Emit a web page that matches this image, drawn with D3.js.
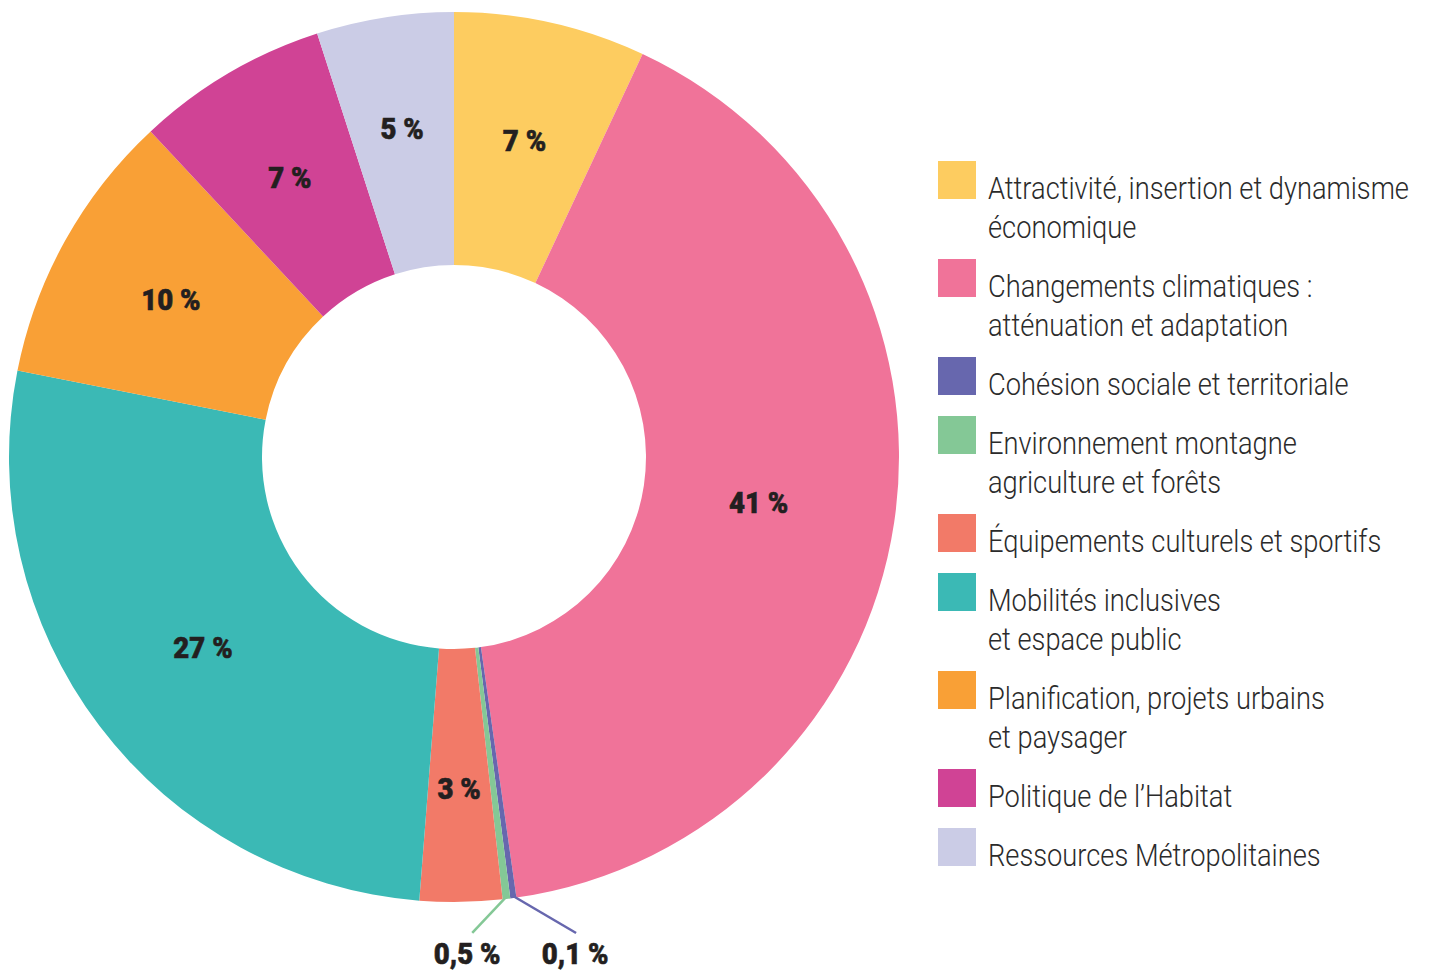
<!DOCTYPE html>
<html><head><meta charset="utf-8">
<script src="https://cdn.jsdelivr.net/npm/d3@7"></script>
<style>body{margin:0;background:#fff}svg{display:block}</style>
</head><body>
<svg id="c" width="1429" height="970"></svg>
<script>
const categories = [
  "Attractivité, insertion et dynamisme\néconomique",
  "Changements climatiques :\natténuation et adaptation",
  "Cohésion sociale et territoriale",
  "Environnement montagne\nagriculture et forêts",
  "Équipements culturels et sportifs",
  "Mobilités inclusives\net espace public",
  "Planification, projets urbains\net paysager",
  "Politique de l’Habitat",
  "Ressources Métropolitaines"
];
// slice sizes (tiny slices drawn wider than their labels)
const values = [7, 41, 0.22, 0.28, 3, 27, 10, 7, 5];
const valueLabels = ["7 %", "41 %", "0,1 %", "0,5 %", "3 %", "27 %", "10 %", "7 %", "5 %"];
const colors = ["#FDCC60", "#F07399", "#6767AE", "#84C896", "#F27A68", "#3BB9B5", "#F9A036", "#D04395", "#CBCCE6"];

const svg = d3.select("#c");
const cx = 454, cy = 457, R = 445, r = 192;
const labelRadius = [325, 308, 0, 0, 331, 315, 324, 324, 333];
const pie = d3.pie().sort(null).value(d => d)(values);
const arc = d3.arc().innerRadius(r).outerRadius(R);
const g = svg.append("g").attr("transform", `translate(${cx},${cy})`);
g.selectAll("path").data(pie).join("path")
  .attr("d", arc).attr("fill", (d, i) => colors[i]);

const labelFont = "Roboto, 'Liberation Sans', sans-serif";
const small = d => (d.endAngle - d.startAngle) < 0.1;
g.selectAll("text.in").data(pie.filter(d => !small(d))).join("text")
  .attr("class", "in")
  .attr("transform", d => {
    const a = (d.startAngle + d.endAngle) / 2, lr = labelRadius[d.index];
    return `translate(${lr * Math.sin(a)},${-lr * Math.cos(a)}) scale(0.92,1)`;
  })
  .attr("text-anchor", "middle").attr("dy", "0.36em")
  .attr("font-family", labelFont).attr("font-weight", 900).attr("font-size", 30)
  .attr("fill", "#231F20").attr("stroke", "#231F20").attr("stroke-width", 0.6)
  .text(d => valueLabels[d.index]);

const leader = {2: [63, 37, -1], 3: [-34, 36, -5]};
pie.filter(small).forEach(d => {
  const a = (d.startAngle + d.endAngle) / 2;
  const x0 = (R - 2) * Math.sin(a), y0 = -(R - 2) * Math.cos(a);
  const [dx, dy, tx] = leader[d.index];
  g.append("line").attr("x1", x0).attr("y1", y0).attr("x2", x0 + dx).attr("y2", y0 + dy)
    .attr("stroke", colors[d.index]).attr("stroke-width", 2.5);
  g.append("text")
    .attr("transform", `translate(${x0 + dx + tx},${y0 + dy + 20}) scale(0.92,1)`)
    .attr("text-anchor", "middle").attr("dy", "0.36em")
    .attr("font-family", labelFont).attr("font-weight", 900).attr("font-size", 30)
    .attr("fill", "#231F20").attr("stroke", "#231F20").attr("stroke-width", 0.6)
    .text(valueLabels[d.index]);
});

const lx = 938, sq = 38, lineH = 39, gap = 59;
let y = 161;
const leg = svg.append("g");
categories.forEach((c, i) => {
  const lines = c.split("\n");
  leg.append("rect").attr("x", lx).attr("y", y).attr("width", sq).attr("height", sq).attr("fill", colors[i]);
  lines.forEach((t, k) => {
    leg.append("text")
      .attr("transform", `translate(${lx + 50},${y + 38 + k * lineH}) scale(0.88,1)`)
      .attr("font-family", "Roboto, sans-serif").attr("font-weight", 300).attr("font-size", 31)
      .attr("fill", "#2B2B2B")
      .text(t);
  });
  y += gap + (lines.length - 1) * lineH;
});
</script>
</body></html>
